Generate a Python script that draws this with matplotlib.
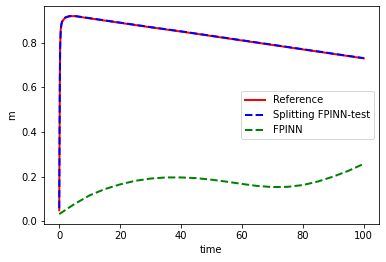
import numpy as np
from matplotlib import pyplot as plt

# reference solution
t_ref = [0, 0.1, 0.2, 0.3, 0.5, 0.75, 1, 1.5, 2, 3, 4, 5, 10, 20, 30, 40, 50, 60, 70, 80, 90, 100]
m_ref = [0.05, 0.35, 0.62, 0.78, 0.86, 0.885, 0.895, 0.905, 0.912, 0.917, 0.919, 0.919, 0.909, 0.889,
         0.869, 0.85, 0.83, 0.81, 0.79, 0.77, 0.75, 0.73]

# splitting FPINN-test (basically on top of the reference)
t_split = [0, 0.1, 0.2, 0.3, 0.5, 0.75, 1, 1.5, 2, 3, 4, 5, 10, 20, 30, 40, 50, 60, 70, 80, 90, 100]
m_split = [0.06, 0.36, 0.63, 0.78, 0.86, 0.886, 0.896, 0.906, 0.913, 0.918, 0.92, 0.92, 0.91, 0.89,
           0.87, 0.851, 0.831, 0.811, 0.791, 0.771, 0.751, 0.731]

# FPINN
t_fp = [0, 5, 10, 15, 20, 25, 30, 35, 40, 45, 50, 55, 60, 65, 70, 75, 80, 85, 90, 95, 100]
m_fp = [0.033, 0.078, 0.117, 0.145, 0.166, 0.182, 0.192, 0.197, 0.197, 0.194, 0.187, 0.178, 0.168,
        0.159, 0.154, 0.155, 0.163, 0.179, 0.201, 0.227, 0.258]

fig = plt.figure(figsize=(386/72, 262/72), dpi=72)
ax = fig.add_axes([44/386, 1-224/262, 335/386, 218/262])

ax.plot(t_ref, m_ref, 'r-', lw=2, label='Reference')
ax.plot(t_split, m_split, 'b--', lw=2, label='Splitting FPINN-test')
ax.plot(t_fp, m_fp, 'g--', lw=2, label='FPINN')

ax.set_xlabel('time')
ax.set_ylabel('m')
ax.legend(loc='center right')

fig.savefig('out.png', dpi=72)
